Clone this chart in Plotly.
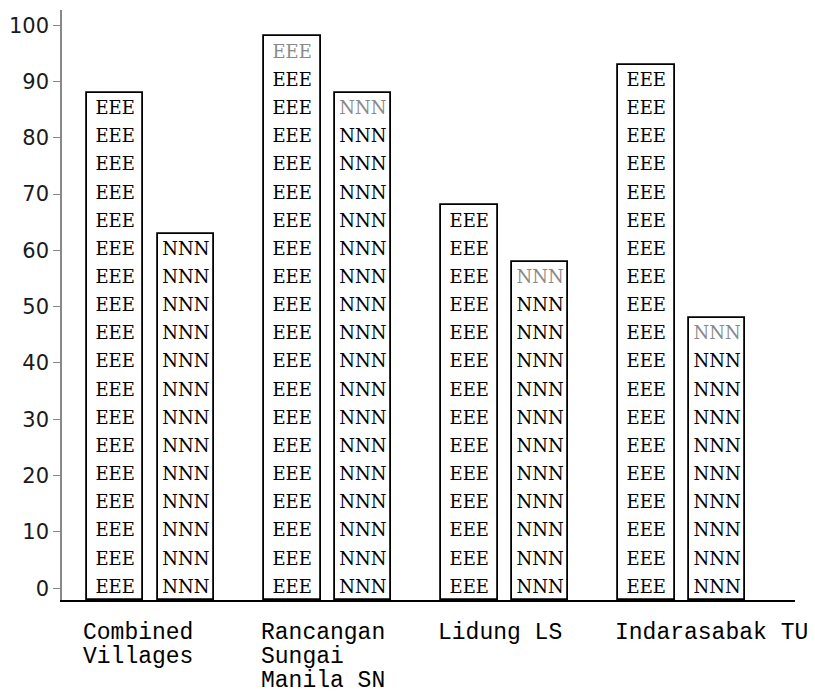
import plotly.graph_objects as go

# data
groups = ["Combined<br>Villages", "Rancangan<br>Sungai<br>Manila SN", "Lidung LS", "Indarasabak TU"]
e_values = [88, 98, 68, 93]
n_values = [63, 88, 58, 48]
# top row printed faint in the original
e_faint_top = [False, True, False, False]
n_faint_top = [False, True, True, True]

BASE = -2.1
ROW_STEP = 5
OFFSET = 0.2
BAR_W = 0.32

fig = go.Figure()


def add_series(values, label, offset, faint):
    xs = [i + offset for i in range(len(values))]
    fig.add_trace(go.Bar(
        x=xs, y=[v - BASE for v in values], base=BASE, width=BAR_W,
        marker=dict(color="white", line=dict(color="black", width=1.8)),
        showlegend=False, hoverinfo="skip",
    ))
    tx, ty, tc = [], [], []
    for x, v, f in zip(xs, values, faint):
        # one printed row per 5 units, top row just under the bar top
        top = int((v - 3) // ROW_STEP) * ROW_STEP
        for y in range(top, -1, -ROW_STEP):
            tx.append(x)
            ty.append(y)
            tc.append("#8a8a8a" if (y == top and f) else "black")
    fig.add_trace(go.Scatter(
        x=tx, y=ty, mode="text", text=[label] * len(tx),
        textfont=dict(family="DejaVu Serif", size=18, color=tc),
        showlegend=False, hoverinfo="skip",
    ))


add_series(e_values, "EEE", -OFFSET, e_faint_top)
add_series(n_values, "NNN", OFFSET, n_faint_top)

# category labels, one annotation per line for tight line spacing
for i, g in enumerate(groups):
    for k, line in enumerate(g.split("<br>")):
        fig.add_annotation(
            x=i - 0.39, xref="x", y=0, yref="paper", yshift=-33 - 24 * k,
            text=line, showarrow=False, xanchor="left", yanchor="middle",
            font=dict(family="Liberation Mono", size=23, color="black"),
        )

fig.update_layout(
    width=815, height=695,
    margin=dict(l=54, r=28, t=2, b=103),
    plot_bgcolor="white", paper_bgcolor="white",
    bargap=0,
)
fig.update_xaxes(
    range=[-0.5, 3.64], showgrid=False, zeroline=False, showticklabels=False,
    ticks="", showline=True, linecolor="black", linewidth=2,
)
fig.update_yaxes(
    range=[BASE, 102.7], showgrid=False, zeroline=False,
    tickvals=list(range(0, 101, 10)), ticks="outside", ticklen=7,
    tickcolor="#888888", showline=True, linecolor="#888888", linewidth=1.5,
    tickfont=dict(family="DejaVu Sans", size=21, color="#1a1a1a"),
)

fig.write_html("out.html")
